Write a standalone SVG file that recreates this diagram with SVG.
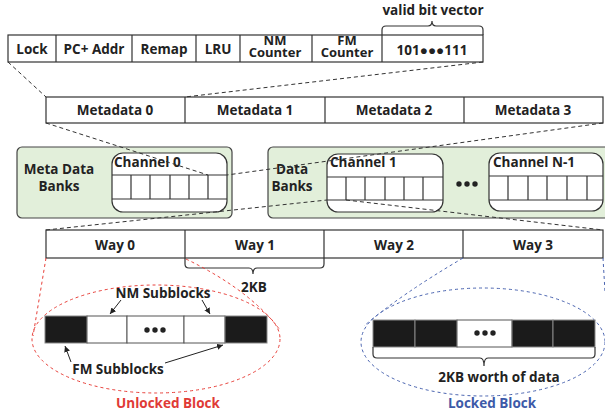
<svg xmlns="http://www.w3.org/2000/svg" width="605" height="414" viewBox="0 0 605 414">
<style>
text{font-family:"Open Sans","Liberation Sans",sans-serif;font-weight:700;font-size:13.5px;fill:#222;text-anchor:middle}
.sm{font-size:13px}
.box{fill:#fff;stroke:#333;stroke-width:1.2}
.bank{fill:#e2efda;stroke:#444;stroke-width:1.2}
.ch{fill:#fff;stroke:#333;stroke-width:1.2}
.ln{stroke:#333;stroke-width:1.2;fill:none}
.dash{stroke:#333;stroke-width:1;stroke-dasharray:4 3;fill:none}
.rd{stroke:#e8403a;stroke-width:1;stroke-dasharray:3 3;fill:none}
.bd{stroke:#4a64b0;stroke-width:1;stroke-dasharray:3 3;fill:none}
.blk{fill:#1b1b1b;stroke:#888;stroke-width:1}
.wht{fill:#fff;stroke:#555;stroke-width:1}
.arr{stroke:#222;stroke-width:1;fill:none;marker-end:url(#ah)}
</style>
<defs>
<marker id="ah" markerWidth="8" markerHeight="8" refX="6" refY="3" orient="auto" markerUnits="userSpaceOnUse">
<path d="M0,0 L6,3 L0,6 Z" fill="#222"/>
</marker>
</defs>

<g id="tag-entry">
<rect class="box" x="8" y="35" width="475" height="27"/>
<path class="ln" d="M56,35V62M132,35V62M196,35V62M240,35V62M312,35V62M382,35V62"/>
<text x="32" y="54">Lock</text>
<text x="94" y="54">PC+ Addr</text>
<text x="164" y="54">Remap</text>
<text x="218" y="54">LRU</text>
<text class="sm" x="275" y="45">NM</text>
<text class="sm" x="275" y="57">Counter</text>
<text class="sm" x="347" y="45">FM</text>
<text class="sm" x="347" y="57">Counter</text>
<text x="432" y="55">101●●●111</text>
</g>

<g id="valid-bit-vector">
<path class="ln" d="M382,35V30Q382,26 386,26H428Q432,26 432,21Q432,26 436,26H479Q483,26 483,30V35"/>
<text x="433" y="15">valid bit vector</text>
</g>

<g id="metadata-row">
<rect class="box" x="46" y="97" width="557" height="26"/>
<path class="ln" d="M185,97V123M325,97V123M464,97V123"/>
<text x="115" y="115">Metadata 0</text>
<text x="255" y="115">Metadata 1</text>
<text x="394" y="115">Metadata 2</text>
<text x="533" y="115">Metadata 3</text>
</g>

<g id="meta-data-banks">
<rect class="bank" x="17" y="147" width="215" height="71" rx="5"/>
<text x="59" y="174">Meta Data</text>
<text x="59" y="191">Banks</text>
</g>

<g id="channel-0">
<rect class="ch" x="112" y="153" width="115" height="59" rx="11"/>
<path class="ln" d="M112,175H227M112,199H227M131,175V199M150,175V199M170,175V199M189,175V199M208,175V199"/>
<text x="114" y="167" style="text-anchor:start">Channel 0</text>
</g>

<g id="data-banks">
<rect class="bank" x="268" y="147" width="350" height="71" rx="5"/>
<text x="292" y="174">Data</text>
<text x="292" y="191">Banks</text>
<circle cx="459" cy="184" r="2.7" fill="#222"/>
<circle cx="467" cy="184" r="2.7" fill="#222"/>
<circle cx="475" cy="184" r="2.7" fill="#222"/>
</g>

<g id="channel-1">
<rect class="ch" x="327" y="154" width="116" height="58" rx="11"/>
<path class="ln" d="M327,177H443M327,200H443M346,177V200M365,177V200M385,177V200M404,177V200M423,177V200"/>
<text x="330" y="167" style="text-anchor:start">Channel 1</text>
</g>

<g id="channel-n-1">
<rect class="ch" x="489" y="153" width="114" height="58" rx="11"/>
<path class="ln" d="M489,176H603M489,200H603M508,176V200M528,176V200M547,176V200M567,176V200M587,176V200"/>
<text x="493" y="167" style="text-anchor:start">Channel N-1</text>
</g>

<g id="way-row">
<rect class="box" x="46" y="230" width="557" height="28"/>
<path class="ln" d="M185,230V258M324,230V258M463,230V258"/>
<text x="115" y="250">Way 0</text>
<text x="255" y="250">Way 1</text>
<text x="394" y="250">Way 2</text>
<text x="533" y="250">Way 3</text>
</g>

<g id="brace-2kb">
<path class="ln" d="M185,258V264Q185,268 189,268H249Q253,268 253,274Q253,268 257,268H320Q324,268 324,264V258"/>
<text x="254" y="292">2KB</text>
</g>

<g id="unlocked-block">
<ellipse class="rd" cx="156" cy="339" rx="124" ry="54"/>
<rect class="blk" x="45" y="316" width="42" height="27"/>
<rect class="wht" x="87" y="316" width="40" height="27"/>
<rect class="wht" x="127" y="316" width="57" height="27"/>
<rect class="wht" x="184" y="316" width="41" height="27"/>
<rect class="blk" x="225" y="316" width="42" height="27"/>
<circle cx="147" cy="330" r="2.7" fill="#222"/>
<circle cx="155" cy="330" r="2.7" fill="#222"/>
<circle cx="163" cy="330" r="2.7" fill="#222"/>
<text x="163" y="298">NM Subblocks</text>
<text x="118" y="374">FM Subblocks</text>
<path class="arr" d="M121,300L110,314"/>
<path class="arr" d="M202,300L210,314"/>
<path class="arr" d="M71,362L65,346"/>
<path class="arr" d="M165,363L223,345"/>
<text x="168" y="408" style="fill:#e03a36">Unlocked Block</text>
</g>

<g id="locked-block">
<ellipse class="bd" cx="483" cy="342" rx="122" ry="54"/>
<rect class="blk" x="373" y="320" width="42" height="27"/>
<rect class="blk" x="415" y="320" width="42" height="27"/>
<rect class="wht" x="457" y="320" width="55" height="27"/>
<rect class="blk" x="512" y="320" width="41" height="27"/>
<rect class="blk" x="553" y="320" width="42" height="27"/>
<circle cx="477" cy="333" r="2.7" fill="#222"/>
<circle cx="485" cy="333" r="2.7" fill="#222"/>
<circle cx="493" cy="333" r="2.7" fill="#222"/>
<path class="ln" d="M373,347V354Q373,358 377,358H480Q484,358 484,366Q484,358 488,358H591Q595,358 595,354V347"/>
<text x="499" y="382">2KB worth of data</text>
<text x="492" y="408" style="fill:#3d5aa8">Locked Block</text>
</g>

<g id="connectors">
<path class="dash" d="M8,62L46,97"/>
<path class="dash" d="M483,62L185,97"/>
<path class="dash" d="M46,123L208,175"/>
<path class="dash" d="M603,123L227,175"/>
<path class="dash" d="M46,230L327,200"/>
<path class="dash" d="M346,200L603,230"/>
<path class="rd" d="M46,258L33,336"/>
<path class="rd" d="M186,259Q250,290 280,330"/>
<path class="bd" d="M463,258Q400,295 364,326"/>
<path class="bd" d="M603,258L605,292"/>
</g>
</svg>
